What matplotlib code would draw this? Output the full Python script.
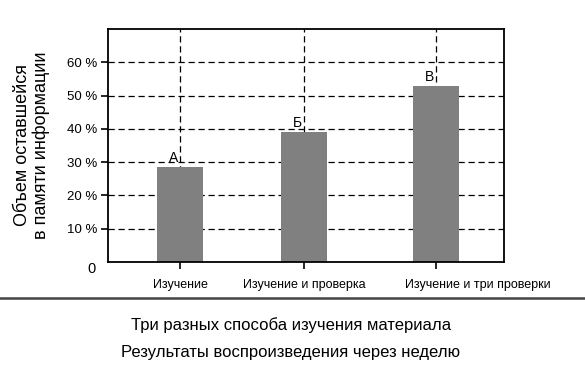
import matplotlib
matplotlib.use("Agg")
import matplotlib.pyplot as plt
import matplotlib.transforms as mtransforms
from matplotlib.lines import Line2D

plt.rcParams['font.family'] = ['Liberation Sans', 'DejaVu Sans']

# data
categories = ['Изучение', 'Изучение и проверка', 'Изучение и три проверки']
values = [28.5, 39, 53]
letters = ['А', 'Б', 'В']
yticks = [10, 20, 30, 40, 50, 60]

fig = plt.figure(figsize=(5.85, 3.67), dpi=100)
ax = fig.add_axes([108/585, 1 - 262/367, 396/585, 233/367])

x = [0, 1, 2.06]
ax.bar(x, values, width=0.37, color='#808080', zorder=2)

# dashed grid behind bars
for yv in yticks:
    ax.axhline(yv, color='black', lw=0.9, ls=(0, (5, 3)), zorder=1)
for xv in x:
    ax.axvline(xv, color='black', lw=0.9, ls=(0, (5, 3)), zorder=1)

for xv, v, t in zip(x, values, letters):
    ax.text(xv - 0.015, v + 0.6, t, ha='right', va='bottom', fontsize=10)

ax.set_xlim(-0.58, 2.61)
ax.set_ylim(0, 70)
ax.set_xticks(x)
ax.set_xticklabels(categories, fontsize=9)
ax.set_yticks(yticks)
ax.set_yticklabels([f'{v} %' for v in yticks], fontsize=9.5)
ax.tick_params(axis='y', length=5, width=1.2, pad=3)
ax.tick_params(axis='x', length=5, width=1.2, pad=7)
for s in ax.spines.values():
    s.set_linewidth(1.3)

# last category label sits to the right of its tick in the original
lbl = ax.get_xticklabels()[-1]
lbl.set_transform(lbl.get_transform() + mtransforms.ScaledTranslation(42/100, 0, fig.dpi_scale_trans))

ax.text(-0.03, -0.03, '0', transform=ax.transAxes, ha='right', va='center', fontsize=10.5)
ax.set_ylabel('Объем оставшейся\nв памяти информации', fontsize=13, labelpad=12,
              linespacing=1.1)

fig.add_artist(Line2D([0, 1], [1 - 298/367, 1 - 298/367], color='#444444', lw=1.8,
                      transform=fig.transFigure))
fig.text(0.497, 1 - 325/367, 'Три разных способа изучения материала', ha='center',
         va='center', fontsize=12)
fig.text(0.497, 1 - 353/367, 'Результаты воспроизведения через неделю', ha='center',
         va='center', fontsize=12)

fig.savefig('out.png', dpi=100)
